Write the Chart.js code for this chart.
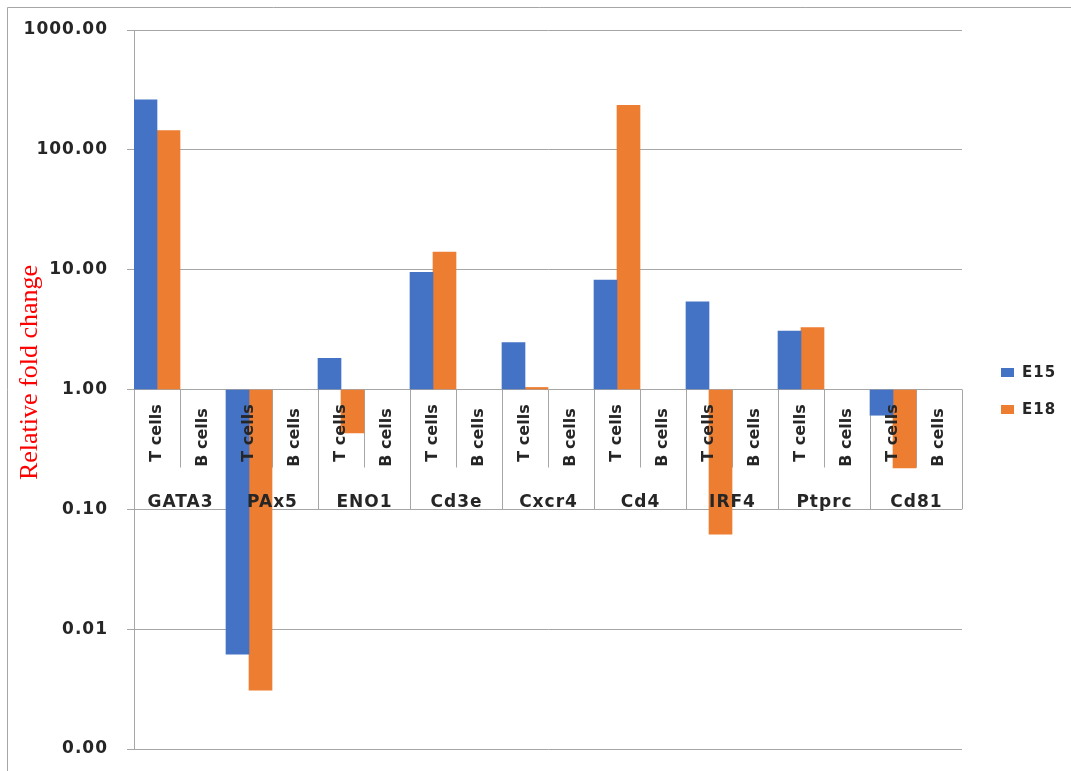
<!DOCTYPE html>
<html>
<head>
<meta charset="utf-8">
<title>Relative fold change</title>
<script src="https://cdn.jsdelivr.net/npm/chart.js@4.4.1/dist/chart.umd.min.js"></script>
<style>
  html, body { margin: 0; padding: 0; background: #ffffff; }
  canvas { display: block; }
</style>
</head>
<body>
<canvas id="chart" width="1071" height="771"></canvas>
<script>
// Genes along the category axis, each split into two cell types
const genes = ['GATA3', 'PAx5', 'ENO1', 'Cd3e', 'Cxcr4', 'Cd4', 'IRF4', 'Ptprc', 'Cd81'];
const cellTypes = ['T cells', 'B cells'];
const seriesNames = ['E15', 'E18'];

// Relative fold change (T cells measured; B cells left empty)
const e15TCells = [262, 0.0062, 1.82, 9.5, 2.46, 8.2, 5.4, 3.08, 0.61];
const e18TCells = [145, 0.0031, 0.435, 14.0, 1.04, 235, 0.062, 3.28, 0.222];
const e15BCells = [null, null, null, null, null, null, null, null, null];
const e18BCells = [null, null, null, null, null, null, null, null, null];

// Logarithmic value axis
const yTickValues = [0.001, 0.01, 0.1, 1, 10, 100, 1000];
const yTickLabels = ['0.00', '0.01', '0.10', '1.00', '10.00', '100.00', '1000.00'];
const yAxisTitle = 'Relative fold change';

const seriesColors = ['#4472C4', '#ED7D31'];
const lineColor = '#a6a6a6';
const textColor = '#262626';
const sansFamily = '"DejaVu Sans", "Liberation Sans", sans-serif';

// Interleave the T/B values per gene into one flat category list
const categoryLabels = genes.flatMap(() => cellTypes.slice());
const interleave = (t, b) => genes.flatMap((g, i) => [t[i], b[i]]);
const seriesData = [interleave(e15TCells, e15BCells), interleave(e18TCells, e18BCells)];

// Frame, two-level category labels, legend and axis title
const decorations = {
  id: 'decorations',
  beforeDraw(chart) {
    const ctx = chart.ctx;
    ctx.save();
    ctx.strokeStyle = lineColor;
    ctx.lineWidth = 1;
    ctx.beginPath();
    ctx.moveTo(7.5, chart.height);
    ctx.lineTo(7.5, 7.5);
    ctx.lineTo(chart.width, 7.5);
    ctx.stroke();
    ctx.restore();
    ctx.letterSpacing = '1px';
  },
  beforeDatasetsDraw(chart) {
    const ctx = chart.ctx;
    const x = chart.scales.x, y = chart.scales.y;
    const y0 = y.getPixelForValue(1);
    const yGene = y.getPixelForValue(0.1);
    const half = (x.getPixelForValue(1) - x.getPixelForValue(0)) / 2;
    ctx.save();
    ctx.strokeStyle = lineColor;
    ctx.lineWidth = 1;
    ctx.beginPath();
    genes.forEach((g, i) => {
      const left = Math.round(x.getPixelForValue(2 * i) - half) + 0.5;
      const mid = Math.round(x.getPixelForValue(2 * i + 1) - half) + 0.5;
      const right = Math.round(x.getPixelForValue(2 * i + 1) + half) + 0.5;
      ctx.moveTo(left, y0); ctx.lineTo(left, yGene);
      ctx.moveTo(right, y0); ctx.lineTo(right, yGene);
      ctx.moveTo(mid, y0); ctx.lineTo(mid, y0 + 78);
    });
    ctx.stroke();
    ctx.restore();
  },
  afterDatasetsDraw(chart) {
    const ctx = chart.ctx;
    const x = chart.scales.x, y = chart.scales.y;
    const y0 = y.getPixelForValue(1);
    ctx.save();
    ctx.fillStyle = textColor;
    // rotated cell-type labels
    ctx.letterSpacing = '0px';
    ctx.font = 'bold 16px ' + sansFamily;
    ctx.textAlign = 'center';
    ctx.textBaseline = 'middle';
    categoryLabels.forEach((lbl, i) => {
      ctx.save();
      ctx.translate(x.getPixelForValue(i), y0 + (i % 2 === 0 ? 43.5 : 48));
      ctx.rotate(-Math.PI / 2);
      ctx.fillText(lbl, 0, 0);
      ctx.restore();
    });
    // gene names
    ctx.letterSpacing = '1px';
    ctx.font = 'bold 17px ' + sansFamily;
    ctx.textBaseline = 'alphabetic';
    genes.forEach((g, i) => {
      const cx = (x.getPixelForValue(2 * i) + x.getPixelForValue(2 * i + 1)) / 2;
      ctx.fillText(g, cx + 0.5, y0 + 117);
    });
    ctx.restore();
  },
  afterDraw(chart) {
    const ctx = chart.ctx;
    const area = chart.chartArea;
    ctx.save();
    // legend
    ctx.letterSpacing = '1px';
    ctx.font = 'bold 15px ' + sansFamily;
    ctx.textAlign = 'left';
    ctx.textBaseline = 'middle';
    chart.data.datasets.forEach((ds, i) => {
      const cy = 372.5 + i * 37;
      ctx.fillStyle = ds.backgroundColor;
      ctx.fillRect(area.right + 39, cy - 4.5, 13, 9);
      ctx.fillStyle = textColor;
      ctx.fillText(ds.label, area.right + 60, cy + 0.5);
    });
    // value axis title
    ctx.letterSpacing = '0px';
    ctx.font = '26px "Liberation Serif", "Times New Roman", serif';
    ctx.fillStyle = '#ff0000';
    ctx.textAlign = 'center';
    ctx.translate(30, 372.5);
    ctx.rotate(-Math.PI / 2);
    ctx.fillText(yAxisTitle, 0, 0);
    ctx.restore();
    ctx.letterSpacing = '0px';
  }
};

new Chart(document.getElementById('chart'), {
  type: 'bar',
  data: {
    labels: categoryLabels,
    datasets: seriesNames.map((name, i) => ({
      label: name,
      data: seriesData[i],
      backgroundColor: seriesColors[i],
      borderWidth: 0,
      base: 1,
      categoryPercentage: 1.0,
      barPercentage: 1.0
    }))
  },
  options: {
    responsive: false,
    animation: false,
    layout: { padding: { left: 0, right: 109, top: 30, bottom: 22 } },
    plugins: {
      legend: { display: false },
      tooltip: { enabled: false }
    },
    scales: {
      x: {
        type: 'category',
        display: false
      },
      y: {
        type: 'logarithmic',
        position: 'left',
        min: 0.001,
        max: 1000,
        afterBuildTicks(scale) {
          scale.ticks = yTickValues.map(v => ({ value: v }));
        },
        afterFit(scale) {
          scale.width = 134;
          scale.paddingTop = 0;
          scale.paddingBottom = 0;
        },
        ticks: {
          autoSkip: false,
          padding: 19,
          color: textColor,
          font: { family: sansFamily, size: 17, weight: 'bold' },
          callback(value) {
            const k = yTickValues.indexOf(value);
            return k >= 0 ? yTickLabels[k] : '';
          }
        },
        grid: {
          color: lineColor,
          lineWidth: 1,
          drawTicks: true,
          tickLength: 7
        },
        border: { display: true, color: lineColor, width: 1 }
      }
    }
  },
  plugins: [decorations]
});
</script>
</body>
</html>
